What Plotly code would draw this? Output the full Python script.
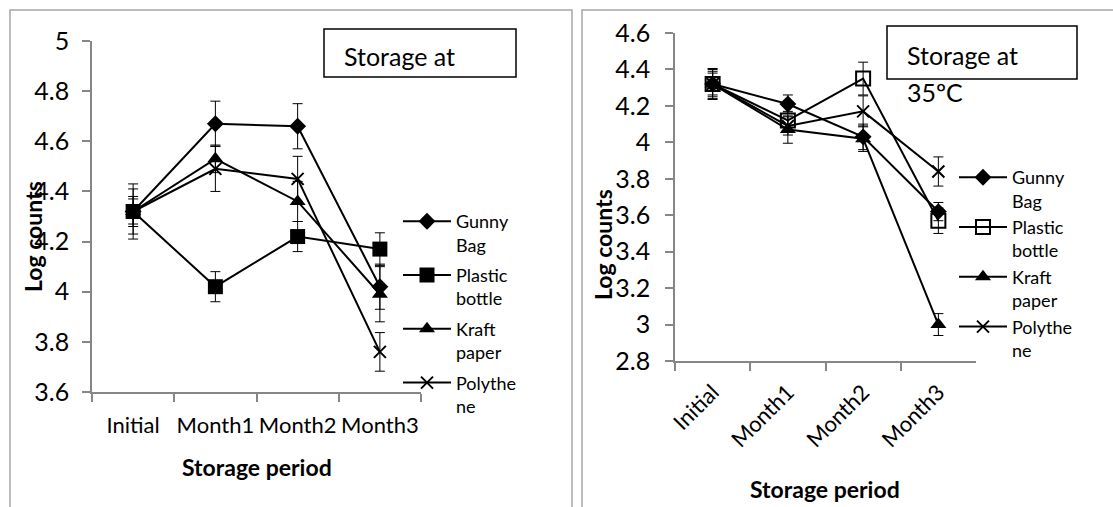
import plotly.graph_objects as go

W, H = 1113, 507

categories = ["Initial", "Month1", "Month2", "Month3"]
series_names = ["Gunny<br>Bag", "Plastic<br>bottle", "Kraft<br>paper", "Polythe<br>ne"]

# Left chart (Storage at ...)
left_gunny = [4.32, 4.67, 4.66, 4.02]
left_plastic = [4.32, 4.02, 4.22, 4.17]
left_kraft = [4.32, 4.53, 4.36, 3.99]
left_poly = [4.32, 4.49, 4.45, 3.76]
left_gunny_err = [0.11, 0.09, 0.09, 0.09]
left_plastic_err = [0.09, 0.06, 0.06, 0.065]
left_kraft_err = [0.06, 0.055, 0.08, 0.11]
left_poly_err = [0.05, 0.09, 0.09, 0.077]

# Right chart (Storage at 35ºC)
right_gunny = [4.32, 4.21, 4.03, 3.62]
right_plastic = [4.32, 4.12, 4.35, 3.57]
right_kraft = [4.32, 4.07, 4.02, 3.00]
right_poly = [4.32, 4.09, 4.17, 3.84]
right_gunny_err = [0.085, 0.05, 0.07, 0.05]
right_plastic_err = [0.08, 0.05, 0.09, 0.07]
right_kraft_err = [0.07, 0.075, 0.07, 0.06]
right_poly_err = [0.06, 0.05, 0.085, 0.08]

FONT = "Lato"
AXIS_GRAY = "#868686"


def px(x):
    return x / W


def py(y):
    return 1 - y / H


fig = go.Figure()

left_series = [left_gunny, left_plastic, left_kraft, left_poly]
left_errs = [left_gunny_err, left_plastic_err, left_kraft_err, left_poly_err]
right_series = [right_gunny, right_plastic, right_kraft, right_poly]
right_errs = [right_gunny_err, right_plastic_err, right_kraft_err, right_poly_err]

left_markers = [
    dict(symbol="diamond", size=13, color="black"),
    dict(symbol="square", size=15, color="black"),
    dict(symbol="triangle-up", size=14, color="black"),
    dict(symbol="x-thin", size=12, color="black", line=dict(width=2, color="black")),
]
right_markers = [
    dict(symbol="diamond", size=13, color="black"),
    dict(symbol="square-open", size=14, color="black", line=dict(width=2, color="black")),
    dict(symbol="triangle-up", size=14, color="black"),
    dict(symbol="x-thin", size=12, color="black", line=dict(width=2, color="black")),
]

for i, name in enumerate(series_names):
    fig.add_trace(go.Scatter(
        x=categories, y=left_series[i], name=name, mode="lines+markers",
        line=dict(color="black", width=2), marker=left_markers[i],
        error_y=dict(type="data", array=left_errs[i], color="black", thickness=1, width=5),
        xaxis="x", yaxis="y", legend="legend", legendgroup="l%d" % i,
    ))
for i, name in enumerate(series_names):
    fig.add_trace(go.Scatter(
        x=categories, y=right_series[i], name=name, mode="lines+markers",
        line=dict(color="black", width=2), marker=right_markers[i],
        error_y=dict(type="data", array=right_errs[i], color="black", thickness=1, width=5),
        xaxis="x2", yaxis="y2", legend="legend2", legendgroup="r%d" % i,
    ))

axis_common = dict(
    showline=True, linecolor=AXIS_GRAY, linewidth=1.5, ticks="outside",
    ticklen=8, tickcolor=AXIS_GRAY, tickwidth=1.5, showgrid=False, zeroline=False,
    automargin=False,
)
xtick_font = dict(family=FONT, size=22, color="black")
ytick_font = dict(family=FONT, size=25, color="black")

fig.update_layout(
    width=W, height=H, margin=dict(l=0, r=0, t=0, b=0, autoexpand=False),
    paper_bgcolor="white", plot_bgcolor="white",
    xaxis=dict(domain=[px(92), px(421)], type="category", range=[-0.5, 3.5],
               tickson="boundaries", anchor="y", tickangle=0, ticklabelstandoff=13,
               tickfont=xtick_font, **axis_common),
    yaxis=dict(domain=[py(392), py(41)], range=[3.6, 5], dtick=0.2, tick0=3.6,
               anchor="x", ticklabelstandoff=8, tickfont=ytick_font, **axis_common),
    xaxis2=dict(domain=[px(675), px(976)], type="category", range=[-0.5, 3.5],
                tickson="boundaries", anchor="y2", tickangle=-45, ticklabelstandoff=8,
                tickfont=xtick_font, **axis_common),
    yaxis2=dict(domain=[py(361), py(33)], range=[2.8, 4.6], dtick=0.2, tick0=2.8,
                anchor="x2", ticklabelstandoff=10, tickfont=ytick_font, **axis_common),
    legend=dict(x=px(398), y=py(203), xanchor="left", yanchor="top",
                font=dict(family=FONT, size=18, color="black"), valign="top",
                bgcolor="rgba(0,0,0,0)", tracegroupgap=4, itemwidth=48),
    legend2=dict(x=px(954), y=py(159), xanchor="left", yanchor="top",
                 font=dict(family=FONT, size=18, color="black"), valign="top",
                 bgcolor="rgba(0,0,0,0)", tracegroupgap=0, itemwidth=48),
    showlegend=True,
)

# outer chart frames
fig.add_shape(type="rect", xref="paper", yref="paper", x0=px(10), x1=px(572), y0=py(520), y1=py(10),
              line=dict(color="#a6a6a6", width=1.5), layer="below")
fig.add_shape(type="rect", xref="paper", yref="paper", x0=px(582), x1=px(1125), y0=py(520), y1=py(10),
              line=dict(color="#a6a6a6", width=1.5), layer="below")

# title boxes
fig.add_shape(type="rect", xref="paper", yref="paper", x0=px(324), x1=px(516), y0=py(77), y1=py(29),
              line=dict(color="black", width=1.5))
fig.add_shape(type="rect", xref="paper", yref="paper", x0=px(887), x1=px(1077), y0=py(79), y1=py(26),
              line=dict(color="black", width=1.5))

ann_font = dict(family=FONT, size=25, color="black")
title_font = dict(family=FONT, size=23, color="black")
annotations = [
    dict(text="Storage at", x=px(342), y=py(56), xanchor="left", yanchor="middle", font=ann_font),
    dict(text="Storage at", x=px(905), y=py(55), xanchor="left", yanchor="middle", font=ann_font),
    dict(text="35ºC", x=px(905), y=py(92), xanchor="left", yanchor="middle", font=ann_font),
    dict(text="<b>Log counts</b>", x=px(33), y=py(237), textangle=-90, xanchor="center",
         yanchor="middle", font=title_font),
    dict(text="<b>Storage period</b>", x=px(257), y=py(467), xanchor="center", yanchor="middle",
         font=title_font),
    dict(text="<b>Log counts</b>", x=px(603), y=py(245), textangle=-90, xanchor="center",
         yanchor="middle", font=title_font),
    dict(text="<b>Storage period</b>", x=px(825), y=py(489), xanchor="center", yanchor="middle",
         font=title_font),
]
for a in annotations:
    a.update(xref="paper", yref="paper", showarrow=False)
    fig.add_annotation(**a)

fig.write_html(
    "out.html",
    config={"displayModeBar": False},
    post_script="document.body.style.margin='0';document.body.style.overflow='hidden';",
)
